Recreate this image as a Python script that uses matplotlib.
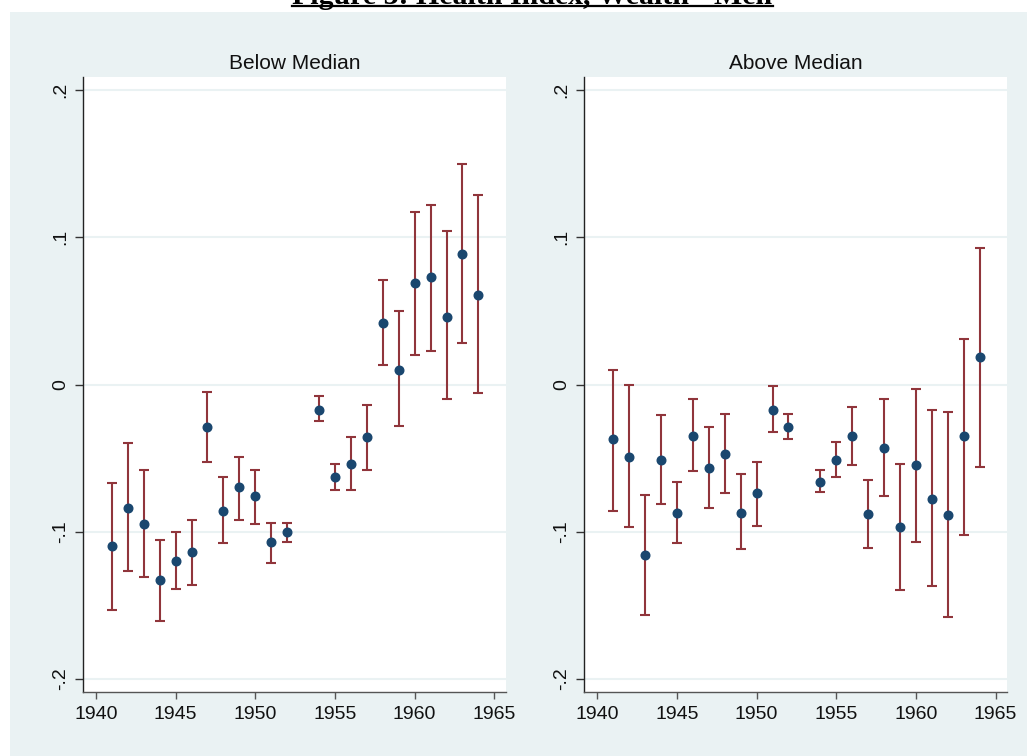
import numpy as np
import matplotlib.pyplot as plt
from matplotlib.patches import Rectangle
from matplotlib.lines import Line2D

# Birth-cohort coefficients with 95% intervals (no 1953 cohort)
years = [1941, 1942, 1943, 1944, 1945, 1946, 1947, 1948, 1949, 1950, 1951, 1952,
         1954, 1955, 1956, 1957, 1958, 1959, 1960, 1961, 1962, 1963, 1964]

below_coef = [-0.110, -0.084, -0.095, -0.133, -0.120, -0.114, -0.029, -0.086,
              -0.070, -0.076, -0.107, -0.100, -0.017, -0.063, -0.054, -0.036,
              0.042, 0.010, 0.069, 0.073, 0.046, 0.089, 0.061]
below_lo = [-0.153, -0.127, -0.131, -0.161, -0.139, -0.136, -0.053, -0.108,
            -0.092, -0.095, -0.121, -0.107, -0.025, -0.072, -0.072, -0.058,
            0.013, -0.028, 0.020, 0.023, -0.010, 0.028, -0.006]
below_hi = [-0.067, -0.040, -0.058, -0.106, -0.100, -0.092, -0.005, -0.063,
            -0.049, -0.058, -0.094, -0.094, -0.008, -0.054, -0.036, -0.014,
            0.071, 0.050, 0.117, 0.122, 0.104, 0.150, 0.129]

above_coef = [-0.037, -0.049, -0.116, -0.051, -0.087, -0.035, -0.057, -0.047,
              -0.087, -0.074, -0.017, -0.029, -0.066, -0.051, -0.035, -0.088,
              -0.043, -0.097, -0.055, -0.078, -0.089, -0.035, 0.019]
above_lo = [-0.086, -0.097, -0.157, -0.081, -0.108, -0.059, -0.084, -0.074,
            -0.112, -0.096, -0.032, -0.037, -0.073, -0.063, -0.055, -0.111,
            -0.076, -0.140, -0.107, -0.137, -0.158, -0.102, -0.056]
above_hi = [0.010, 0.000, -0.075, -0.021, -0.066, -0.010, -0.029, -0.020,
            -0.061, -0.053, -0.001, -0.020, -0.058, -0.039, -0.015, -0.065,
            -0.010, -0.054, -0.003, -0.017, -0.019, 0.031, 0.093]

panel_titles = ["Below Median", "Above Median"]
xticks = [1940, 1945, 1950, 1955, 1960, 1965]
yticks = [-0.2, -0.1, 0, 0.1, 0.2]
ytick_labels = ["-.2", "-.1", "0", ".1", ".2"]

bg = "#EAF2F3"
navy = "#1A476F"
maroon = "#90353B"

plt.rcParams["font.family"] = ["Liberation Sans", "DejaVu Sans"]

fig = plt.figure(figsize=(10.27, 7.56), dpi=100, facecolor="white")
W, H = 1027, 756
fig.patches.append(Rectangle((10 / W, 0), 1 - 10 / W, (H - 12) / H,
                             transform=fig.transFigure, facecolor=bg,
                             edgecolor="none", zorder=-10))

# cut-off document heading above the graph
title = fig.text(0.5185, 1 - 3.5 / H, "Figure 3: Health Index, Wealth - Men",
                 ha="center", va="baseline", fontsize=21.5, fontweight="bold",
                 family="Liberation Serif", color="black")
fig.canvas.draw()
bb = title.get_window_extent()
fig.add_artist(Line2D([bb.x0 / W, bb.x1 / W], [1 - 5.5 / H, 1 - 5.5 / H],
                      transform=fig.transFigure, color="black", lw=1.6))

panels = [
    (83, below_coef, below_lo, below_hi),
    (584.3, above_coef, above_lo, above_hi),
]

for (left_px, coef, lo, hi), name in zip(panels, panel_titles):
    ax = fig.add_axes([left_px / W, (H - 692) / H, 423 / W, 615 / H])
    ax.set_facecolor("white")
    coef = np.array(coef)
    err = np.vstack([coef - np.array(lo), np.array(hi) - coef])
    ax.errorbar(years, coef, yerr=err, fmt="none", ecolor=maroon,
                elinewidth=1.5, capsize=3.3, capthick=1.5, zorder=3)
    ax.plot(years, coef, "o", color=navy, markersize=6.2, zorder=4)

    ax.set_xlim(1939.19, 1965.73)
    ax.set_ylim(-0.209, 0.209)
    ax.set_xticks(xticks)
    ax.set_yticks(yticks)
    ax.set_yticklabels(ytick_labels, rotation=90, va="center")
    for yv in yticks:
        ax.axhline(yv, color=bg, lw=1.5, zorder=1)

    for s in ["top", "right"]:
        ax.spines[s].set_visible(False)
    ax.spines["left"].set_color("#222222")
    ax.spines["bottom"].set_color("#555555")
    ax.spines["left"].set_linewidth(1.0)
    ax.spines["bottom"].set_linewidth(1.0)

    ax.tick_params(axis="y", length=6, width=1, color="#333333",
                   labelsize=14, pad=4, labelcolor="#111111")
    ax.tick_params(axis="x", length=5, width=1, color="#555555",
                   labelsize=14, pad=5, labelcolor="#111111")
    ax.set_title(name, fontsize=15, pad=6, color="#111111")

fig.savefig("out.png", dpi=100, facecolor="white")
